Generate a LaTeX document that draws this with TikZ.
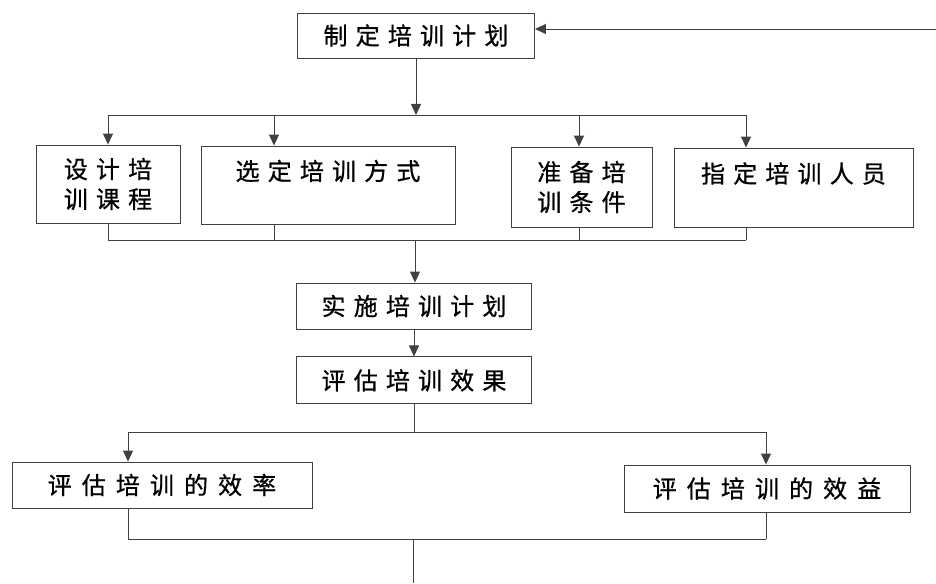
\documentclass[tikz,border=0pt]{standalone}
\usepackage{fontspec}
\setmainfont{Noto Sans CJK SC}
\newfontfamily\cjkwide{Noto Sans CJK SC}[LetterSpace=34,FakeBold=0.8]
\newfontfamily\cjkwider{Noto Sans CJK SC}[LetterSpace=42,FakeBold=0.8]
\usetikzlibrary{arrows.meta,positioning}

\begin{document}
\begin{tikzpicture}[x=1pt,y=-1pt,black!75,line width=0.9pt,>={Triangle[length=11pt,width=10pt]}]

        \tikzstyle{block}=[draw=black!75,shape=rectangle,align=center,inner sep=0pt,text=black,font=\cjkwide\fontsize{24}{30}\selectfont]
        \tikzstyle{wide block}=[block,font=\cjkwider\fontsize{24}{30}\selectfont]

        \useasboundingbox (0,0) rectangle (936,583);

        \node[block,minimum width=237pt,minimum height=45pt] (plan) at (416,35.5) {制定培训计划};

        \node[block,minimum width=144pt,minimum height=78pt] (course) at (108,184) {设计培\\训课程};
        \node[block,minimum width=254pt,minimum height=78pt] (mode) at (328,185) {选定培训方式\\~};
        \node[block,minimum width=141pt,minimum height=80pt] (cond) at (581.5,187) {准备培\\训条件};
        \node[block,minimum width=239pt,minimum height=79pt] (staff) at (793.5,187.5) {指定培训人员\\~};

        \node[block,minimum width=235pt,minimum height=46pt] (impl) at (414,306) {实施培训计划};
        \node[block,minimum width=235pt,minimum height=47pt] (eval) [below=27pt of impl] {评估培训效果};

        \node[wide block,minimum width=300pt,minimum height=46pt] (rate) at (162,485) {评估培训的效率};
        \node[wide block,minimum width=286pt,minimum height=47pt] (gain) at (767,488.5) {评估培训的效益};

        \coordinate (fb) at (936,29);
        \coordinate (top) at (416,115);
        \coordinate (mid) at (415,240);
        \coordinate (split) at (414,432);
        \coordinate (lrate) at (128,432);
        \coordinate (lgain) at (766,432);
        \coordinate (jrate) at (128,539);
        \coordinate (jgain) at (766,539);
        \coordinate (join) at (413,539);
        \coordinate (out) at (413,583);

        \path [->] (fb) edge (fb -| plan.east);
        \path [->] (plan) edge (top);

        \foreach \n/\x in {course/108,mode/274,cond/579,staff/746}{
          \coordinate (t\n) at (\x,115);
          \coordinate (b\n) at (\x,240);
          \path [->] (t\n) edge (t\n |- \n.north);
          \path [-] (b\n |- \n.south) edge (b\n);
        }
        \path [-] (tcourse) edge (tstaff);
        \path [-] (bcourse) edge (bstaff);

        \path [->] (mid) edge (mid |- impl.north);
        \path [->] (impl) edge (eval);
        \path [-] (eval) edge (split);

        \path [-] (lrate) edge (lgain);
        \path [->] (lrate) edge (lrate |- rate.north);
        \path [->] (lgain) edge (lgain |- gain.north);
        \path [-] (jrate |- rate.south) edge (jrate);
        \path [-] (jgain |- gain.south) edge (jgain);
        \path [-] (jrate) edge (jgain);
        \path [-] (join) edge (out);
      \end{tikzpicture}
\end{document}
